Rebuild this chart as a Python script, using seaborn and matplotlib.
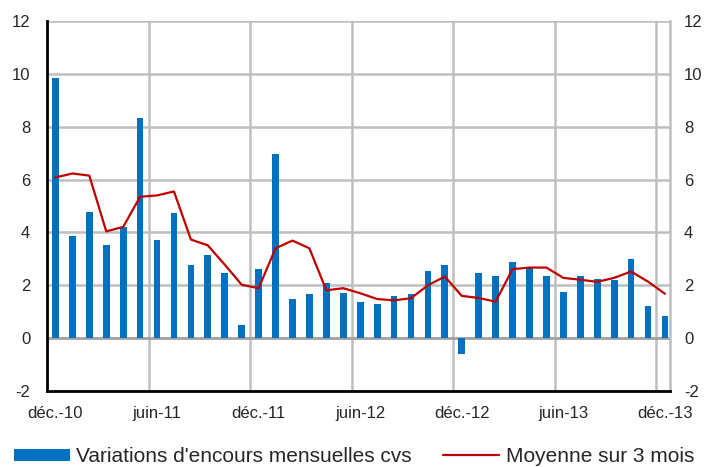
import matplotlib
matplotlib.use("Agg")
import matplotlib.pyplot as plt
import seaborn as sns
import numpy as np
import pandas as pd

# Monthly data, déc.-10 .. déc.-13 (37 months)
months = pd.date_range("2010-12-01", "2013-12-01", freq="MS")
variations = [9.85, 3.88, 4.79, 3.51, 4.19, 8.34, 3.73, 4.72, 2.76, 3.14, 2.46, 0.50,
              2.63, 6.98, 1.50, 1.66, 2.10, 1.72, 1.36, 1.28, 1.58, 1.66, 2.55, 2.78,
              -0.61, 2.45, 2.36, 2.90, 2.71, 2.36, 1.75, 2.36, 2.22, 2.21, 2.98, 1.21, 0.83]
moyenne_3m = [6.08, 6.23, 6.15, 4.04, 4.21, 5.35, 5.40, 5.55, 3.73, 3.51, 2.78, 2.02,
              1.89, 3.40, 3.69, 3.40, 1.81, 1.89, 1.70, 1.48, 1.43, 1.51, 2.00, 2.33,
              1.60, 1.52, 1.38, 2.61, 2.67, 2.67, 2.28, 2.21, 2.13, 2.28, 2.52, 2.14, 1.68]
mois_fr = ["janv.", "févr.", "mars", "avr.", "mai", "juin", "juil.", "août",
           "sept.", "oct.", "nov.", "déc."]
labels = [f"{mois_fr[d.month - 1]}-{d.year % 100:02d}" for d in months]

df = pd.DataFrame({"mois": labels, "variation": variations, "moyenne": moyenne_3m})
df["pos"] = np.arange(len(df))

sns.set_style("white")
plt.rcParams["font.family"] = ["Liberation Sans", "DejaVu Sans"]
plt.rcParams["axes.unicode_minus"] = False

fig = plt.figure(figsize=(7.08, 4.67), dpi=100)
ax = fig.add_axes([47 / 708, 1 - 391 / 467, (670 - 47) / 708, (391 - 21) / 467])

sns.barplot(data=df, x="pos", y="variation", color="#0070C0", saturation=1,
            width=0.4, ax=ax, label="Variations d'encours mensuelles cvs", zorder=3)
sns.lineplot(data=df, x="pos", y="moyenne", color="#C00000", linewidth=1.6,
             ax=ax, label="Moyenne sur 3 mois", zorder=4)
for p in ax.patches:
    p.set_linewidth(0)

ax.set_ylim(-2, 12)
ax.set_xlim(-0.5, 36.3)
ax.set_yticks(range(-2, 13, 2))

grid_pos = np.arange(-0.5, 37, 6)
ax.set_xticks(grid_pos)
ax.set_xticklabels([])
ax.set_xticks(np.arange(0, 37, 6), minor=True)
ax.set_xticklabels(labels[::6], minor=True, fontsize=12)
ax.tick_params(axis="x", which="major", length=4, color="#808080", direction="out")
ax.tick_params(axis="x", which="minor", length=0, pad=11)
ax.tick_params(axis="y", labelsize=12, length=0, pad=12)

for y in range(-2, 13, 2):
    ax.axhline(y, color="#BFBFBF", linewidth=1.8, zorder=1)
for x in grid_pos[1:]:
    ax.axvline(x, color="#BFBFBF", linewidth=1.8, zorder=1)
ax.axhline(0, color="#A0A0A0", linewidth=1.8, zorder=2)

ax.set_xlabel("")
ax.set_ylabel("")
ax.spines["top"].set_visible(False)
ax.spines["right"].set_color("#BFBFBF")
ax.spines["right"].set_linewidth(1.8)
ax.spines["left"].set_color("black")
ax.spines["left"].set_linewidth(2)
ax.spines["bottom"].set_color("black")
ax.spines["bottom"].set_linewidth(2)

ax2 = ax.twinx()
ax2.set_ylim(-2, 12)
ax2.set_yticks(range(-2, 13, 2))
ax2.tick_params(axis="y", labelsize=12, length=0, pad=10)
for s in ax2.spines.values():
    s.set_visible(False)

handles, labs = ax.get_legend_handles_labels()
ax.get_legend().remove()
order = [labs.index("Variations d'encours mensuelles cvs"), labs.index("Moyenne sur 3 mois")]
fig.legend([handles[i] for i in order], [labs[i] for i in order], loc="center",
           bbox_to_anchor=(0.5, 0.022), ncol=2, frameon=False, fontsize=15,
           handlelength=2.7, handleheight=0.55, columnspacing=1.5, handletextpad=0.3)

fig.savefig("out.png", dpi=100)
